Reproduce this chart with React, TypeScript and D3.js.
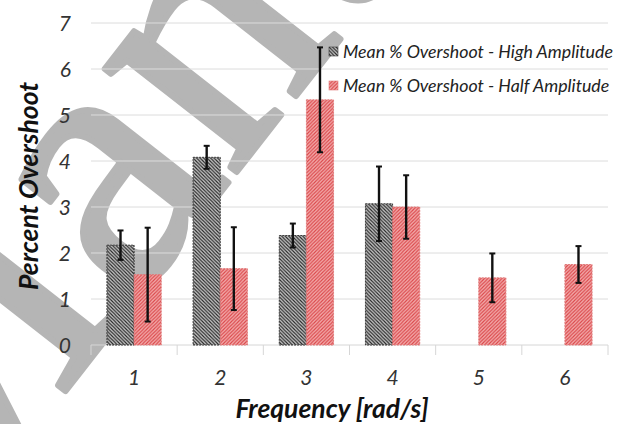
import React from 'react';
import * as d3 from 'd3';

const categories = ['1', '2', '3', '4', '5', '6'];
const highAmp: (number | null)[] = [2.17, 4.08, 2.38, 3.07, null, null];
const highAmpErr: (number | null)[] = [0.32, 0.25, 0.26, 0.81, null, null];
const halfAmp: (number | null)[] = [1.53, 1.66, 5.33, 3.0, 1.46, 1.75];
const halfAmpErr: (number | null)[] = [1.02, 0.9, 1.14, 0.69, 0.53, 0.4];
const yTicks = [0, 1, 2, 3, 4, 5, 6, 7];
const seriesNames = ['Mean % Overshoot - High Amplitude', 'Mean % Overshoot - Half Amplitude'];
const xTitle = 'Frequency [rad/s]';
const yTitle = 'Percent Overshoot';
const watermark = 'Manuscript';

const W = 626;
const H = 424;
const FONT = 'Lato, "Open Sans", sans-serif';

export default function App() {
  const x = d3.scaleBand<string>().domain(categories).range([91, 608]).paddingInner(0.37).paddingOuter(0.185);
  const x1 = d3.scaleBand<string>().domain(['high', 'half']).range([0, x.bandwidth()]).padding(0);
  const y = d3.scaleLinear().domain([0, 7]).range([345, 23]);

  const series = [
    { key: 'high', values: highAmp, errs: highAmpErr, fill: 'url(#hatchGrey)', stroke: '#3a3a3a' },
    { key: 'half', values: halfAmp, errs: halfAmpErr, fill: 'url(#hatchRed)', stroke: '#e07a7a' },
  ];

  const step = x.step();
  const boundaries = d3.range(categories.length + 1).map((i) => 91 + i * step);

  return (
    <svg width={W} height={H} style={{ position: 'absolute', left: 0, top: 0, background: '#fff' }}>
      <defs>
        <pattern id="hatchGrey" patternUnits="userSpaceOnUse" width="3.5" height="3.5">
          <rect width="3.5" height="3.5" fill="#cdcdcd" />
          <path d="M-1,2.5 l2,2 M0,0 l3.5,3.5 M2.5,-1 l2,2" stroke="#262626" strokeWidth="1.15" />
        </pattern>
        <pattern id="hatchRed" patternUnits="userSpaceOnUse" width="3.5" height="3.5">
          <rect width="3.5" height="3.5" fill="#f4b0b0" />
          <path d="M-1,1 l2,-2 M0,3.5 l3.5,-3.5 M2.5,4.5 l2,-2" stroke="#da4649" strokeWidth="1.15" />
        </pattern>
      </defs>

      {/* watermark */}
      <text
        transform="translate(-68,562) rotate(-52)"
        fontFamily='"Liberation Serif", serif'
        fontSize={365}
        fill="#b5b5b5"
        stroke="#b5b5b5"
        strokeWidth={6}
        strokeLinejoin="round"
      >
        {watermark}
      </text>

      {/* gridlines */}
      {yTicks.slice(1).map((t) => (
        <line key={t} x1={91} x2={608} y1={y(t)} y2={y(t)} stroke="#dcdcdc" strokeWidth={1} />
      ))}
      <line x1={91} x2={608} y1={y(0)} y2={y(0)} stroke="#d6d6d6" strokeWidth={1} />
      {boundaries.map((b, i) => (
        <line key={i} x1={b} x2={b} y1={y(0)} y2={y(0) + 10} stroke="#d6d6d6" strokeWidth={1} />
      ))}

      {/* bars */}
      {series.map((s) =>
        categories.map((c, i) => {
          const v = s.values[i];
          if (v == null) return null;
          const bx = (x(c) as number) + (x1(s.key) as number);
          return (
            <rect
              key={s.key + c}
              x={bx}
              y={y(v)}
              width={x1.bandwidth()}
              height={y(0) - y(v)}
              fill={s.fill}
              stroke={s.stroke}
              strokeWidth={1}
              strokeDasharray="2,1"
            />
          );
        })
      )}

      {/* error bars */}
      {series.map((s) =>
        categories.map((c, i) => {
          const v = s.values[i];
          const e = s.errs[i];
          if (v == null || e == null) return null;
          const cx = (x(c) as number) + (x1(s.key) as number) + x1.bandwidth() / 2;
          return (
            <g key={'e' + s.key + c} stroke="#111" strokeWidth={2.4}>
              <line x1={cx} x2={cx} y1={y(v + e)} y2={y(v - e)} />
              <line x1={cx - 3} x2={cx + 3} y1={y(v + e)} y2={y(v + e)} strokeWidth={2} />
              <line x1={cx - 3} x2={cx + 3} y1={y(v - e)} y2={y(v - e)} strokeWidth={2} />
            </g>
          );
        })
      )}

      {/* y tick labels */}
      {yTicks.map((t) => (
        <text
          key={t}
          x={71}
          y={y(t)}
          dy="0.36em"
          textAnchor="end"
          fontFamily={FONT}
          fontStyle="italic"
          fontSize={21}
          fill="#333"
        >
          {t}
        </text>
      ))}

      {/* x tick labels */}
      {categories.map((c) => (
        <text
          key={c}
          x={(x(c) as number) + x.bandwidth() / 2}
          y={385}
          textAnchor="middle"
          fontFamily={FONT}
          fontStyle="italic"
          fontSize={21}
          fill="#333"
        >
          {c}
        </text>
      ))}

      {/* axis titles */}
      <text
        x={332}
        y={418}
        textAnchor="middle"
        fontFamily={FONT}
        fontStyle="italic"
        fontWeight="bold"
        fontSize={26.5}
        fill="#111"
      >
        {xTitle}
      </text>
      <text
        transform="translate(38,186) rotate(-90)"
        textAnchor="middle"
        fontFamily={FONT}
        fontStyle="italic"
        fontWeight="bold"
        fontSize={26.5}
        fill="#111"
      >
        {yTitle}
      </text>

      {/* legend */}
      {seriesNames.map((n, i) => (
        <g key={n} transform={`translate(329,${47 + i * 34})`}>
          <rect width={9} height={9} fill={series[i].fill} stroke={series[i].stroke} strokeWidth={0.6} />
          <text x={14} y={5} dy="0.36em" fontFamily={FONT} fontStyle="italic" fontSize={17.8} fill="#222">
            {n}
          </text>
        </g>
      ))}
    </svg>
  );
}
